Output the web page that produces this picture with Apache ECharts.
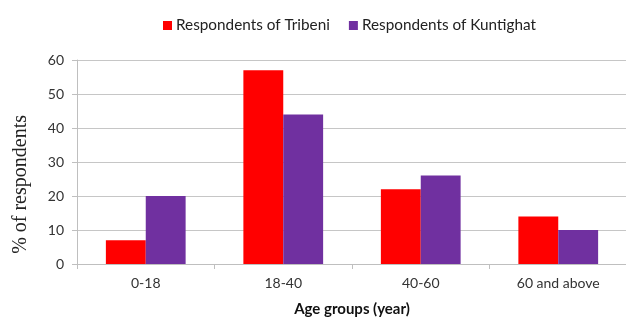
<!DOCTYPE html>
<html>
<head>
<meta charset="utf-8">
<script src="https://cdn.jsdelivr.net/npm/echarts@6/dist/echarts.min.js"></script>
<style>
  html, body { margin: 0; padding: 0; background: #ffffff; }
  #chart { width: 626px; height: 320px; }
</style>
</head>
<body>
<div id="chart"></div>
<script>
// Age-group breakdown of respondents in two villages
const categories = ['0-18', '18-40', '40-60', '60 and above'];
const tribeni = [7, 57, 22, 14];
const kuntighat = [20, 44, 26, 10];
const seriesNames = ['Respondents of Tribeni', 'Respondents of Kuntighat'];
const yTicks = { min: 0, max: 60, interval: 10 };

const labelFont = 'Lato, "Open Sans", sans-serif';

const chart = echarts.init(document.getElementById('chart'), null, { renderer: 'canvas' });

chart.setOption({
  animation: false,
  backgroundColor: '#ffffff',
  legend: {
    data: seriesNames,
    left: 163,
    top: 18,
    padding: 0,
    itemWidth: 9,
    itemHeight: 9,
    itemGap: 19,
    icon: 'rect',
    textStyle: { fontFamily: labelFont, fontSize: 15.3, color: '#222', padding: [0, 0, 0, -1] }
  },
  grid: { left: 77, right: -1, top: 60, bottom: 56, outerBoundsMode: 'none', containLabel: false },
  xAxis: {
    type: 'category',
    data: categories,
    name: 'Age groups (year)',
    nameLocation: 'middle',
    nameGap: 38,
    nameTextStyle: { fontFamily: labelFont, fontSize: 15, fontWeight: 'bold', color: '#111' },
    axisLine: { lineStyle: { color: '#bfbfbf', width: 1 } },
    axisTick: { show: true, length: 5, lineStyle: { color: '#bfbfbf' } },
    axisLabel: { fontFamily: labelFont, fontSize: 14, color: '#333', margin: 12 }
  },
  yAxis: {
    type: 'value',
    min: yTicks.min,
    max: yTicks.max,
    interval: yTicks.interval,
    axisLine: { show: true, lineStyle: { color: '#bfbfbf', width: 1 } },
    axisTick: { show: true, length: 5, lineStyle: { color: '#bfbfbf' } },
    axisLabel: { fontFamily: labelFont, fontSize: 14, color: '#333', margin: 13 },
    splitLine: { lineStyle: { color: '#c6c6c6', width: 1 } }
  },
  graphic: [{
    type: 'text',
    left: 11,
    top: 115,
    rotation: Math.PI / 2,
    style: {
      text: '% of respondents',
      font: '20px "Liberation Serif", "Times New Roman", serif',
      fill: '#222'
    }
  }],
  series: [
    {
      name: seriesNames[0],
      type: 'bar',
      data: tribeni,
      barGap: '0%',
      barCategoryGap: '42%',
      itemStyle: { color: '#ff0000' }
    },
    {
      name: seriesNames[1],
      type: 'bar',
      data: kuntighat,
      barGap: '0%',
      barCategoryGap: '42%',
      itemStyle: { color: '#7030a0' }
    }
  ]
});
</script>
</body>
</html>
